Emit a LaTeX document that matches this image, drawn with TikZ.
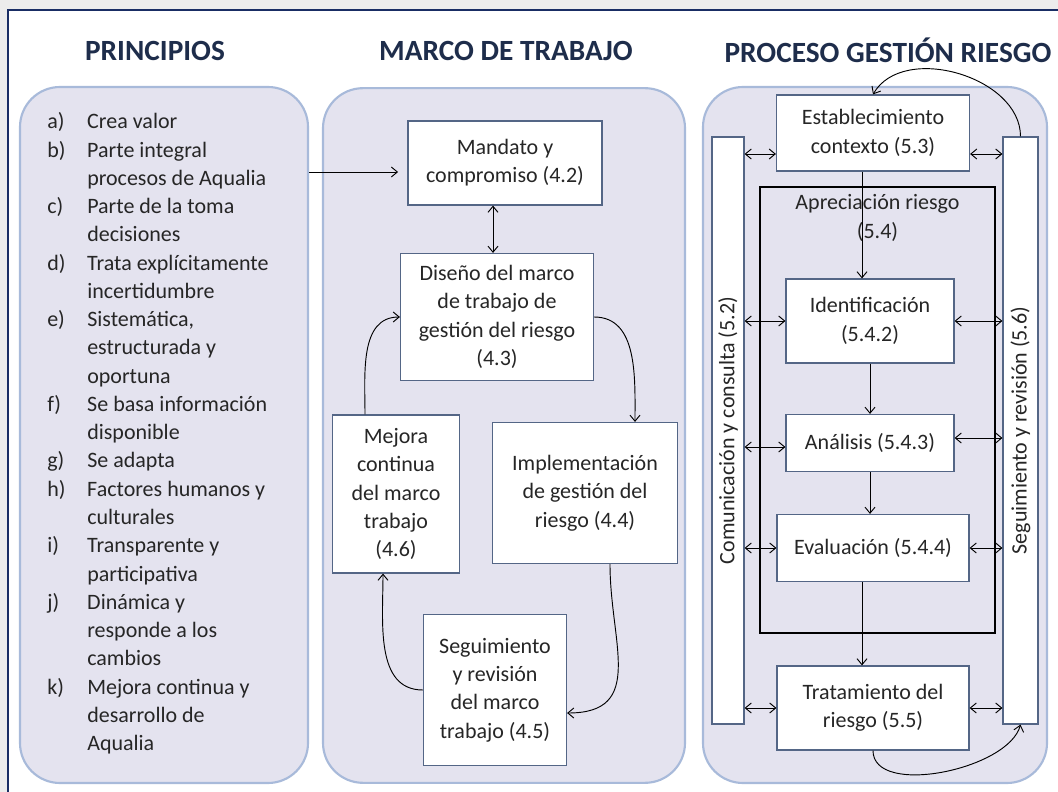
\documentclass[tikz,border=0pt]{standalone}
\usepackage{fontspec}
\setmainfont{Carlito}
\usepackage{graphicx}
\usetikzlibrary{positioning, arrows.meta}
\definecolor{panelfill}{RGB}{228,227,239}
\definecolor{panelline}{RGB}{168,186,218}
\definecolor{boxline}{RGB}{84,102,134}
\definecolor{titlecol}{RGB}{30,45,75}
\definecolor{txt}{RGB}{38,38,38}
\definecolor{outergray}{RGB}{236,236,236}
\definecolor{framenavy}{RGB}{25,45,100}
\tikzset{
    panel/.style={ % the three rounded backgrounds
        draw=panelline, line width=1.6pt,
        fill=panelfill, rounded corners=30pt
    },
    box/.style={ % white boxes
        draw=boxline, fill=white, line width=0.9pt,
        align=center, inner sep=0pt, text=txt
    },
    title/.style={font=\fontsize{22}{26}\selectfont\bfseries, text=titlecol},
    every edge/.style={ % connectors
        draw,
        ->,>={Straight Barb[length=4.5pt,width=7.5pt]},
        line width=0.7pt
    }
}
\begin{document}
\begin{tikzpicture}[x=0.75pt, y=-0.75pt, font=\fontsize{16.5}{21.2}\selectfont, text=txt]
        \useasboundingbox (0,0) rectangle (1058,792);
        \fill[outergray] (0,0) rectangle (1058,792);
        \fill[white] (8,10) rectangle (1058,792);
        \draw[framenavy, line width=1pt] (8,792) -- (8,10) -- (1058,10);

        % titulos
        \node[title] (tprin)  at (155,51) {PRINCIPIOS};
        \node[title] (tmarco) at (506,51) {MARCO DE TRABAJO};
        \node[title] (tproc)  at (888,50) {PROCESO GESTIÓN RIESGO};

        % fondos
        \node[panel, minimum width=216pt, minimum height=522pt]   (principios) at (164,435)   {};
        \node[panel, minimum width=271.5pt, minimum height=521pt] (marco)      at (504,435.5) {};
        \node[panel, minimum width=258pt, minimum height=522pt]   (proceso)    at (875,435)   {};

        % principios
        \node[anchor=north west, inner sep=0pt] (lista) at (47,108.7) {%
            \begin{tabular}{@{}p{30pt}@{}l@{}}
                a) & Crea valor\\
                b) & Parte integral\\
                   & procesos de Aqualia\\
                c) & Parte de la toma\\
                   & decisiones\\
                d) & Trata explícitamente\\
                   & incertidumbre\\
                e) & Sistemática,\\
                   & estructurada y\\
                   & oportuna\\
                f) & Se basa información\\
                   & disponible\\
                g) & Se adapta\\
                h) & Factores humanos y\\
                   & culturales\\
                i) & Transparente y\\
                   & participativa\\
                j) & Dinámica y\\
                   & responde a los\\
                   & cambios\\
                k) & Mejora continua y\\
                   & desarrollo de\\
                   & Aqualia
            \end{tabular}};

        % marco de trabajo
        \node[box, minimum width=145.5pt, minimum height=63pt]     (mandato)  at (505,163) {Mandato y\\compromiso (4.2)};
        \node[box, minimum width=144.75pt, minimum height=95.25pt] (diseno)   at (497,317) {Diseño del marco\\de trabajo de\\gestión del riesgo\\(4.3)};
        \node[box, minimum width=95.25pt, minimum height=118.5pt]  (mejora)   at (396,494) {Mejora\\continua\\del marco\\trabajo\\(4.6)};
        \node[box, minimum width=138.75pt, minimum height=105.75pt] (implem)  at (585,493) {Implementación\\de gestión del\\riesgo (4.4)};
        \node[box, minimum width=107.25pt, minimum height=113.25pt] (segmarco) at (495,690) {Seguimiento\\y revisión\\del marco\\trabajo (4.5)};

        % proceso gestion riesgo
        \node[draw=black, line width=0.9pt, minimum width=176.25pt, minimum height=334.5pt, inner sep=0pt] (apre) at (877.5,410) {};
        \node[anchor=north, align=center, inner sep=0pt] (apretxt) at ([yshift=-6pt]apre.north) {Apreciación riesgo\\(5.4)};
        \node[box, minimum width=24pt, minimum height=440.25pt]    (combar)   at (728,430.5)  {\rotatebox{90}{Comunicación y consulta (5.2)}};
        \node[box, minimum width=26.25pt, minimum height=440.25pt] (segbar)   at (1020.5,430.5) {\rotatebox{90}{Seguimiento y revisión (5.6)}};
        \node[box, minimum width=144.75pt, minimum height=57pt]    (estab)    at (873,133) {Establecimiento\\contexto (5.3)};
        \node[box, minimum width=126pt, minimum height=63pt]       (ident)    at (870,321) {Identificación\\(5.4.2)};
        \node[box, minimum width=126pt, minimum height=42.75pt]    (analisis) at (870,443) {Análisis (5.4.3)};
        \node[box, minimum width=144pt, minimum height=50.25pt]    (evalua)   at (873,548) {Evaluación (5.4.4)};
        \node[box, minimum width=144pt, minimum height=63pt]       (tratam)   at (873,708) {Tratamiento del\\riesgo (5.5)};

        \coordinate (entrada) at ([yshift=-6.75pt]mandato.west);
        \coordinate (estabiz) at ([yshift=-15.75pt]estab.west);
        \coordinate (estabde) at ([yshift=-15.75pt]estab.east);

        \draw
                % principios -> marco
                (principios.east |- entrada) edge[shorten >=7pt]      (entrada)
                % marco de trabajo
                ([xshift=-9pt]mandato.south) edge[<->]   ([xshift=-9pt]mandato.south |- diseno.north)
                (diseno.east)               edge[out=0,in=90]        ([xshift=37.5pt]implem.north)
                ([xshift=18.75pt]implem.south) edge[out=-90,in=0,
                                                looseness=1.3]       ([yshift=-17.25pt]segmarco.east)
                (segmarco.west)             edge[out=180,in=-90]     ([xshift=-9.75pt]mejora.south)
                ([xshift=-23.25pt]mejora.north) edge[out=90,in=180]  (diseno.west)
                % proceso
                ([xshift=-8.25pt]estab.south) edge  ([xshift=-8.25pt]estab.south |- ident.north)
                (ident)                     edge                     (analisis)
                (analisis.south)            edge                     (analisis.south |- evalua.north)
                ([xshift=-8.25pt]evalua.south) edge ([xshift=-8.25pt]evalua.south |- tratam.north)
                % laterales
                (combar.east |- estabiz)    edge[<->]                (estabiz)
                (estabde)                   edge[<->]                (segbar.west |- estabde)
                (combar.east |- ident.west) edge[<->]                (ident.west)
                (ident.east)                edge[<->]                (segbar.west |- ident.east)
                ([yshift=-3pt]analisis.west -| combar.east) edge[<->] ([yshift=-3pt]analisis.west)
                ([yshift=3.75pt]analisis.east) edge[<->] ([yshift=3.75pt]analisis.east -| segbar.west)
                (combar.east |- evalua.west) edge[<->]               (evalua.west)
                (evalua.east)               edge[<->]                (segbar.west |- evalua.east)
                (combar.east |- tratam.west) edge[<->]               (tratam.west)
                (tratam.east)               edge[<->]                (segbar.west |- tratam.east)
                % vueltas
                (segbar.north)              edge[out=90,in=60]       (estab.north)
                (tratam.south)              edge[out=-90,in=-105,
                                                 looseness=0.8]      (segbar.south)
        ;
\end{tikzpicture}
\end{document}
